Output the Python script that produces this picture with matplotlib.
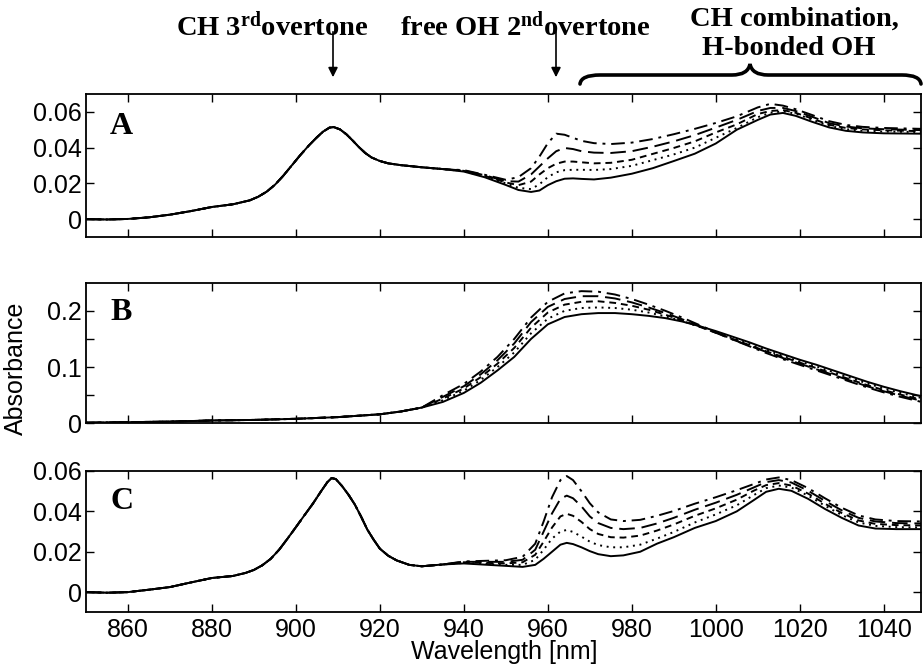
import numpy as np
import matplotlib
matplotlib.use('Agg')
import matplotlib.pyplot as plt
from matplotlib.path import Path
from matplotlib.patches import PathPatch, FancyArrowPatch

plt.rcParams['font.family'] = ['Liberation Sans', 'DejaVu Sans']
plt.rcParams['mathtext.fontset'] = 'custom'
plt.rcParams['mathtext.rm'] = 'Liberation Serif:bold'
plt.rcParams['mathtext.it'] = 'Liberation Serif:bold'
plt.rcParams['mathtext.bf'] = 'Liberation Serif:bold'

# ---------------- data ----------------
# Panel A: shared part (all five spectra coincide)
wl_a_head = [850, 855, 860, 865, 870, 875, 880, 885, 889, 891, 893, 895, 897, 899, 901, 903,
             905, 906.5, 908, 909, 910.5, 912, 913.5, 915, 916.5, 918, 920, 922, 925, 930, 935]
a_head = [0.0000, -0.0002, 0.0001, 0.0010, 0.0025, 0.0045, 0.0068, 0.0083, 0.0105, 0.0125,
          0.0153, 0.0192, 0.0243, 0.0300, 0.0357, 0.0410, 0.0458, 0.0490, 0.0512, 0.0515,
          0.0502, 0.0475, 0.0440, 0.0403, 0.0370, 0.0345, 0.0325, 0.0312, 0.0302, 0.0290,
          0.0280]
wl_a_tail = [940, 945, 950, 953, 956, 958, 960, 962, 964, 966, 968, 971, 975, 980, 985, 990,
             995, 1000, 1005, 1010, 1013, 1016, 1019, 1023, 1027, 1031, 1035, 1040, 1049]
a_solid = [0.0266, 0.0234, 0.0191, 0.0163, 0.0152, 0.0160, 0.0190, 0.0212, 0.0226, 0.0228,
           0.0225, 0.0222, 0.0232, 0.0254, 0.0285, 0.0325, 0.0366, 0.0423, 0.0500, 0.0555,
           0.0585, 0.0594, 0.0578, 0.0544, 0.0513, 0.0494, 0.0485, 0.0480, 0.0478]
a_dotted = [0.0268, 0.0238, 0.0200, 0.0175, 0.0168, 0.0195, 0.0235, 0.0262, 0.0274, 0.0276,
            0.0276, 0.0275, 0.0280, 0.0298, 0.0330, 0.0362, 0.0400, 0.0455, 0.0510, 0.0570,
            0.0595, 0.0603, 0.0590, 0.0556, 0.0522, 0.0503, 0.0494, 0.0490, 0.0487]
a_dashed = [0.0270, 0.0242, 0.0205, 0.0190, 0.0210, 0.0250, 0.0285, 0.0310, 0.0322, 0.0322,
            0.0318, 0.0312, 0.0315, 0.0332, 0.0365, 0.0398, 0.0435, 0.0485, 0.0530, 0.0588,
            0.0605, 0.0610, 0.0595, 0.0562, 0.0528, 0.0510, 0.0502, 0.0497, 0.0492]
a_longdash = [0.0272, 0.0245, 0.0212, 0.0210, 0.0250, 0.0295, 0.0340, 0.0380, 0.0398, 0.0392,
              0.0380, 0.0372, 0.0370, 0.0380, 0.0405, 0.0435, 0.0470, 0.0512, 0.0555, 0.0605,
              0.0622, 0.0622, 0.0605, 0.0572, 0.0537, 0.0518, 0.0508, 0.0503, 0.0498]
a_dashdot = [0.0274, 0.0248, 0.0220, 0.0235, 0.0285, 0.0350, 0.0425, 0.0478, 0.0472, 0.0455,
             0.0438, 0.0425, 0.0420, 0.0428, 0.0448, 0.0475, 0.0505, 0.0538, 0.0575, 0.0625,
             0.0645, 0.0635, 0.0615, 0.0582, 0.0548, 0.0527, 0.0516, 0.0510, 0.0505]

# Panel B
wl_b_head = [850, 860, 870, 880, 890, 900, 910, 920, 925, 930]
b_head = [0.001, 0.002, 0.003, 0.005, 0.006, 0.008, 0.011, 0.016, 0.021, 0.028]
wl_b_tail = [935, 940, 944, 948, 952, 956, 960, 964, 968, 972, 976, 980, 984, 988, 992, 996,
             1000, 1004, 1008, 1012, 1016, 1020, 1024, 1028, 1032, 1036, 1040, 1044, 1049]
b_solid = [0.038, 0.054, 0.072, 0.094, 0.118, 0.150, 0.176, 0.189, 0.194, 0.196, 0.196, 0.194,
           0.191, 0.187, 0.181, 0.173, 0.164, 0.154, 0.144, 0.133, 0.123, 0.113, 0.104, 0.094,
           0.084, 0.074, 0.065, 0.057, 0.048]
b_dotted = [0.041, 0.058, 0.077, 0.100, 0.126, 0.160, 0.186, 0.200, 0.205, 0.206, 0.205, 0.202,
            0.197, 0.190, 0.182, 0.172, 0.162, 0.151, 0.141, 0.130, 0.120, 0.110, 0.101, 0.091,
            0.081, 0.071, 0.062, 0.054, 0.045]
b_dashed = [0.044, 0.062, 0.082, 0.106, 0.134, 0.170, 0.197, 0.211, 0.216, 0.217, 0.214, 0.209,
            0.202, 0.193, 0.183, 0.172, 0.161, 0.150, 0.139, 0.128, 0.118, 0.108, 0.098, 0.088,
            0.078, 0.068, 0.059, 0.051, 0.042]
b_longdash = [0.047, 0.066, 0.087, 0.112, 0.142, 0.180, 0.207, 0.221, 0.226, 0.226, 0.222, 0.215,
              0.206, 0.196, 0.185, 0.173, 0.161, 0.149, 0.138, 0.127, 0.116, 0.106, 0.096, 0.086,
              0.076, 0.066, 0.057, 0.049, 0.040]
b_dashdot = [0.050, 0.070, 0.092, 0.118, 0.150, 0.188, 0.216, 0.231, 0.235, 0.234, 0.229, 0.221,
             0.211, 0.200, 0.188, 0.175, 0.162, 0.149, 0.137, 0.125, 0.114, 0.104, 0.094, 0.084,
             0.074, 0.064, 0.055, 0.047, 0.038]

# Panel C
wl_c_head = [850, 855, 860, 865, 870, 875, 880, 885, 888, 890, 892, 894, 896, 898, 900, 902,
             904, 906, 907.5, 908.5, 909.5, 911, 912.5, 914, 915.5, 917, 918.5, 920, 922, 924,
             927, 930, 935]
c_head = [0.0000, -0.0003, 0.0000, 0.0012, 0.0025, 0.0048, 0.0070, 0.0080, 0.0095, 0.0110,
          0.0133, 0.0165, 0.0210, 0.0265, 0.0322, 0.0380, 0.0437, 0.0500, 0.0545, 0.0565,
          0.0560, 0.0525, 0.0483, 0.0435, 0.0375, 0.0310, 0.0260, 0.0215, 0.0180, 0.0157,
          0.0135, 0.0128, 0.0137]
wl_c_tail = [940, 945, 950, 954, 957, 959, 961, 963, 964.5, 966, 968, 970, 972, 975, 978, 982,
             986, 990, 995, 1000, 1005, 1009, 1012, 1015, 1018, 1022, 1026, 1030, 1034, 1038,
             1043, 1049]
c_solid = [0.0142, 0.0136, 0.0130, 0.0125, 0.0135, 0.0165, 0.0200, 0.0235, 0.0244, 0.0238,
           0.0222, 0.0203, 0.0188, 0.0178, 0.0182, 0.0200, 0.0240, 0.0272, 0.0318, 0.0352,
           0.0400, 0.0455, 0.0497, 0.0512, 0.0502, 0.0462, 0.0412, 0.0368, 0.0330, 0.0315,
           0.0312, 0.0312]
c_dotted = [0.0145, 0.0140, 0.0135, 0.0135, 0.0160, 0.0210, 0.0265, 0.0300, 0.0308, 0.0298,
            0.0275, 0.0250, 0.0233, 0.0222, 0.0222, 0.0235, 0.0265, 0.0298, 0.0345, 0.0385,
            0.0430, 0.0480, 0.0515, 0.0528, 0.0518, 0.0478, 0.0428, 0.0382, 0.0345, 0.0328,
            0.0322, 0.0320]
c_dashed = [0.0148, 0.0145, 0.0142, 0.0148, 0.0185, 0.0250, 0.0320, 0.0375, 0.0388, 0.0378,
            0.0348, 0.0312, 0.0288, 0.0272, 0.0270, 0.0280, 0.0305, 0.0335, 0.0378, 0.0415,
            0.0458, 0.0502, 0.0530, 0.0540, 0.0528, 0.0488, 0.0438, 0.0392, 0.0355, 0.0338,
            0.0332, 0.0330]
c_longdash = [0.0150, 0.0150, 0.0150, 0.0160, 0.0210, 0.0300, 0.0390, 0.0462, 0.0478, 0.0465,
              0.0425, 0.0375, 0.0342, 0.0318, 0.0312, 0.0318, 0.0340, 0.0368, 0.0408, 0.0443,
              0.0482, 0.0518, 0.0545, 0.0555, 0.0543, 0.0502, 0.0452, 0.0405, 0.0368, 0.0350,
              0.0342, 0.0340]
c_dashdot = [0.0152, 0.0155, 0.0158, 0.0175, 0.0240, 0.0350, 0.0470, 0.0555, 0.0575, 0.0555,
             0.0500, 0.0440, 0.0395, 0.0360, 0.0352, 0.0358, 0.0378, 0.0402, 0.0438, 0.0470,
             0.0505, 0.0535, 0.0558, 0.0568, 0.0555, 0.0515, 0.0465, 0.0418, 0.0380, 0.0360,
             0.0352, 0.0350]

x_ticks = [860, 880, 900, 920, 940, 960, 980, 1000, 1020, 1040]
a_yticks = [0, 0.02, 0.04, 0.06]
a_ylabels = ['0', '0.02', '0.04', '0.06']
b_yticks = [0, 0.05, 0.1, 0.15, 0.2]
b_ylabels = ['0', '', '0.1', '', '0.2']
c_yticks = [0, 0.02, 0.04, 0.06]
c_ylabels = ['0', '0.02', '0.04', '0.06']

# ---------------- figure ----------------
W, H = 923, 669
fig = plt.figure(figsize=(W / 100, H / 100), dpi=100)


def rect(top, bottom, left=86, right=921.5):
    return [left / W, 1 - bottom / H, (right - left) / W, (bottom - top) / H]


axA = fig.add_axes(rect(94, 237))
axB = fig.add_axes(rect(282.7, 423.3))
axC = fig.add_axes(rect(471, 612.3))

styles = ['-', (0, (1, 2.4)), (0, (3.5, 2.5)), (0, (8, 3.5)), (0, (7, 3, 1.5, 3))]

panels = [
    (axA, wl_a_head, a_head, wl_a_tail, [a_solid, a_dotted, a_dashed, a_longdash, a_dashdot],
     (-0.01, 0.07), a_yticks, a_ylabels, 'A', 0.776),
    (axB, wl_b_head, b_head, wl_b_tail, [b_solid, b_dotted, b_dashed, b_longdash, b_dashdot],
     (0, 0.25), b_yticks, b_ylabels, 'B', 0.787),
    (axC, wl_c_head, c_head, wl_c_tail, [c_solid, c_dotted, c_dashed, c_longdash, c_dashdot],
     (-0.01, 0.06), c_yticks, c_ylabels, 'C', 0.783),
]

for ax, wh, vh, wt, tails, ylim, yt, yl, lab, ly in panels:
    for tail, ls in zip(tails, styles):
        ax.plot(np.concatenate([wh, wt]), np.concatenate([vh, tail]),
                color='black', linestyle=ls, lw=1.4)
    ax.set_xlim(850, 1049)
    ax.set_ylim(*ylim)
    ax.set_xticks(x_ticks)
    ax.set_yticks(yt)
    ax.set_yticklabels(yl)
    ax.tick_params(direction='in', top=True, right=True, length=6, width=1,
                   labelsize=18)
    ax.tick_params(axis='y', pad=3)
    ax.tick_params(axis='x', pad=4)
    for sp in ax.spines.values():
        sp.set_linewidth(1.3)
    ax.text(0.029, ly, lab, transform=ax.transAxes, ha='left', va='center',
            family='Liberation Serif', weight='bold', fontsize=23)
    if ax is not axC:
        ax.tick_params(labelbottom=False)

fig.text(15.5 / W, 1 - 368.7 / H, 'Absorbance', rotation=90, ha='center', va='center',
         fontsize=18)
fig.text(504 / W, 1 - 659 / H, 'Wavelength [nm]', ha='center', va='baseline', fontsize=18)

# ---------------- annotations ----------------
serif = dict(family='Liberation Serif', weight='bold', ha='center', va='baseline')
fig.text(272 / W, 1 - 35 / H, r'CH 3$^{\mathrm{rd}}$overtone', fontsize=20.5, **serif)
fig.text(525 / W, 1 - 35 / H, r'free OH 2$^{\mathrm{nd}}$overtone', fontsize=20.5, **serif)
fig.text(794 / W, 1 - 26 / H, 'CH combination,', fontsize=20.5, **serif)
fig.text(789 / W, 1 - 55 / H, 'H-bonded OH', fontsize=20.5, **serif)

for xa in (333, 556):
    fig.add_artist(FancyArrowPatch(
        (xa / W, 1 - 29 / H), (xa / W, 1 - 80 / H), transform=fig.transFigure,
        arrowstyle='-|>', mutation_scale=14, lw=1.2, color='black'))


def fp(x, y):
    return (x / W, 1 - y / H)


verts = [fp(580, 84), fp(581, 75), fp(600, 75), fp(732, 75), fp(748, 75), fp(750, 64),
         fp(752, 75), fp(768, 75), fp(902, 75), fp(920, 75), fp(921, 84)]
codes = [Path.MOVETO, Path.CURVE3, Path.CURVE3, Path.LINETO, Path.CURVE3, Path.CURVE3,
         Path.CURVE3, Path.CURVE3, Path.LINETO, Path.CURVE3, Path.CURVE3]
fig.add_artist(PathPatch(Path(verts, codes), transform=fig.transFigure, fill=False,
                         lw=2.6, color='black', capstyle='round'))

fig.savefig('out.png', dpi=100)
